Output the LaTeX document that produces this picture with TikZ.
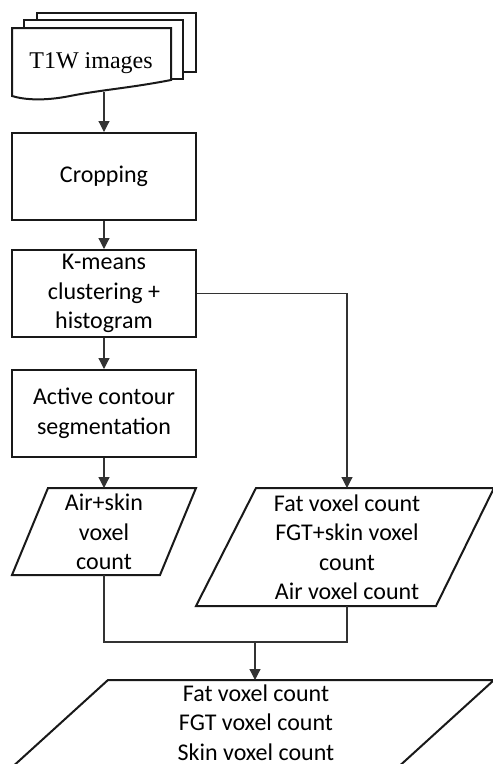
\documentclass[tikz,border=0pt]{standalone}
\usepackage{fontspec}
\setmainfont{Carlito}
\newfontfamily\timesfont{Liberation Serif}
\usepackage{tikz}
\usetikzlibrary{arrows.meta}
\usetikzlibrary{calc}

\tikzset{
  proc/.style={draw=black!90,line width=2pt,minimum width=184pt,minimum height=87pt,inner sep=0pt,align=center,font=\fontsize{24}{29.5}\selectfont},
  txt/.style={align=center,inner sep=0pt,font=\fontsize{24}{29.5}\selectfont},
  flow/.style={draw=black!80,line width=1.2pt},
  io/.style={draw=black!90,line width=2pt,fill=white,line join=miter}
}

\begin{document}
\begin{tikzpicture}[x=1pt,y=-1pt,>={Triangle[width=11pt,length=11pt]}]
\useasboundingbox (0,0) rectangle (493,764);
\clip (0,0) rectangle (493,764);
\begin{scope} %pile de documents
	\draw[io] (37,13) rectangle (196,72);
	\draw[io] (24,20) rectangle (183,79);
	\draw[io] (12,28) -- (171,28) -- (171,80) .. controls (130,88) and (100,90) .. (70,96) .. controls (45,101) and (25,100) .. (12,96) -- cycle;
	\node[txt,font=\timesfont\fontsize{24}{29}\selectfont] (T) at (91,63) {T1W images};
	\coordinate (Tbot) at (104,92);
\end{scope}
\begin{scope} %etapes
	\node[proc] (Crop) at (104,176.5) {Cropping};
	\node[proc] (KM) at (104,293.5) {K-means\\clustering +\\histogram};
	\node[proc] (AC) at (104,413.5) {Active contour\\segmentation};
\end{scope}
\begin{scope} %sorties
	\draw[io] (48,488) -- (196,488) -- (160,575) -- (12,575) -- cycle;
	\node[txt] (AS) at (104,532) {Air+skin\\voxel\\count};
	\coordinate (AStop) at (104,488);
	\coordinate (ASbot) at (104,575);
	
	\draw[io] (256,488) -- (494,488) -- (436,606) -- (196,606) -- cycle;
	\node[txt] (FV) at (347,547) {Fat voxel count\\FGT+skin voxel\\count\\Air voxel count};
	\coordinate (FVtop) at (347,488);
	\coordinate (FVbot) at (347,606);
	
	\draw[io] (108,680) -- (494,680) -- (395,770) -- (9,770) -- cycle;
	\node[txt] (OUT) at (256,722.5) {Fat voxel count\\FGT voxel count\\Skin voxel count};
	\coordinate (OUTtop) at (255,680);
	\coordinate (J) at (255,642);
\end{scope}
%fleches
\draw[flow,->] (Tbot) -- (Crop);
\draw[flow,->] (Crop) -- (KM);
\draw[flow,->] (KM) -- (AC);
\draw[flow,->] (AC) -- (AStop);
\draw[flow,->] (KM.east) -| (FVtop);
\draw[flow] (ASbot) |- (J);
\draw[flow] (FVbot) |- (J);
\draw[flow,->] (J) -- (OUTtop);
\end{tikzpicture}
\end{document}
